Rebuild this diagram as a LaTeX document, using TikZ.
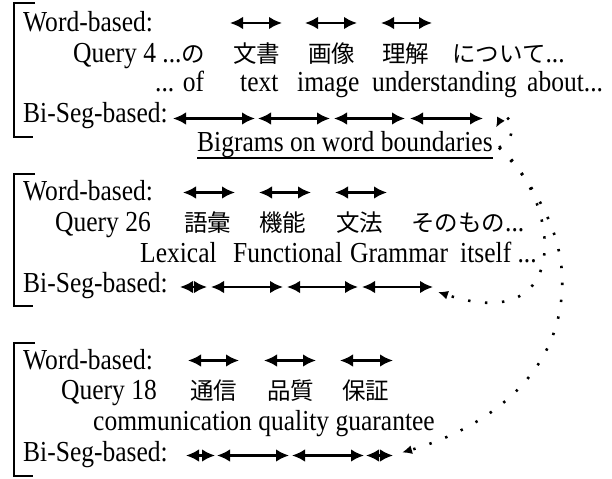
\documentclass[tikz,border=0pt]{standalone}
\usepackage{fontspec}
\setmainfont[FakeStretch=0.88]{Liberation Serif}
\newfontfamily\cjk{Noto Sans CJK JP}
\usetikzlibrary{arrows.meta,calc}
\newcommand\jpf{\cjk\fontsize{23.5bp}{28bp}\selectfont}
\begin{document}
\begin{tikzpicture}[x=1bp,y=-1bp,
  txt/.style={anchor=base west,inner sep=0pt,font=\fontsize{29bp}{34bp}\selectfont},
  jp/.style={anchor=base west,inner sep=0pt,font=\jpf},
  seg/.style={line width=2.1bp,>={Latex[length=13bp,width=12.5bp]},<->},
  brk/.style={line width=2bp},
  link/.style={line width=2.6bp,dash pattern=on 2.4bp off 14.6bp,>={Latex[length=10bp,width=9bp]},->}]
\useasboundingbox (0,0) rectangle (612,479);

% ---------- block 1 ----------
\draw[brk] (35,3) -- (13.5,3) -- (13.5,137) -- (33,137);
\node[txt] (w1) at (23,31.5) {Word-based:};
\node[txt] (q1) at (73,62.5) {Query 4 ...{\jpf の}};
\node[jp] (q1a) at (233,62.5) {文書};
\node[jp] (q1b) at (308,62.5) {画像};
\node[jp] (q1c) at (382,62.5) {理解};
\node[txt] (q1d) at (452,62.5) {{\jpf について}...};
\node[txt] (e1) at (155,91.5) {... of};
\node[txt] (e1a) at (240,91.5) {text};
\node[txt] (e1b) at (297,91.5) {image};
\node[txt] (e1c) at (372,91.5) {understanding};
\node[txt] (e1d) at (527,91.5) {about...};
\node[txt] (s1) at (23,123) {Bi-Seg-based:};
\node[txt] (lab) at (197,151.5) {Bigrams on word boundaries};
\draw[line width=1.5bp] (lab.south west) -- (lab.south east);
\foreach \a/\b [count=\i] in {230/282,305/357,381/432}{
  \coordinate (wa1\i) at (\a,23); \coordinate (wb1\i) at (\b,23);
  \draw[seg] (wa1\i) -- (wb1\i);}
\foreach \a/\b [count=\i] in {173/255,258/330,334/405,410/483}{
  \coordinate (ba1\i) at (\a,118.5); \coordinate (bb1\i) at (\b,118.5);
  \draw[seg] (ba1\i) -- (bb1\i);}

% ---------- block 2 ----------
\draw[brk] (35,174) -- (13.5,174) -- (13.5,306) -- (33,306);
\node[txt] (w2) at (23,201) {Word-based:};
\node[txt] (q2) at (55,231.5) {Query 26};
\node[jp] (q2a) at (184,231.5) {語彙};
\node[jp] (q2b) at (259,231.5) {機能};
\node[jp] (q2c) at (336,231.5) {文法};
\node[txt] (q2d) at (411,231.5) {{\jpf そのもの}...};
\node[txt] (e2a) at (140,262) {Lexical};
\node[txt] (e2b) at (233,262) {Functional};
\node[txt] (e2c) at (350,262) {Grammar};
\node[txt] (e2d) at (460,262) {itself ...};
\node[txt] (s2) at (23,292.5) {Bi-Seg-based:};
\foreach \a/\b [count=\i] in {183/235,259/311,335/387}{
  \coordinate (wa2\i) at (\a,192.5); \coordinate (wb2\i) at (\b,192.5);
  \draw[seg] (wa2\i) -- (wb2\i);}
\foreach \a/\b [count=\i] in {180/207,211/283,287/358,362/433}{
  \coordinate (ba2\i) at (\a,287); \coordinate (bb2\i) at (\b,287);
  \draw[seg] (ba2\i) -- (bb2\i);}

% ---------- block 3 ----------
\draw[brk] (35,343) -- (13.5,343) -- (13.5,476) -- (33,476);
\node[txt] (w3) at (23,369) {Word-based:};
\node[txt] (q3) at (61,399.5) {Query 18};
\node[jp] (q3a) at (190,399.5) {通信};
\node[jp] (q3b) at (267,399.5) {品質};
\node[jp] (q3c) at (342,399.5) {保証};
\node[txt] (e3) at (93,430) {communication quality guarantee};
\node[txt] (s3) at (23,461) {Bi-Seg-based:};
\foreach \a/\b [count=\i] in {188/239,264/316,340/393}{
  \coordinate (wa3\i) at (\a,360.5); \coordinate (wb3\i) at (\b,360.5);
  \draw[seg] (wa3\i) -- (wb3\i);}
\foreach \a/\b [count=\i] in {186/215,217/289,292/364,366/393}{
  \coordinate (ba3\i) at (\a,455.5); \coordinate (bb3\i) at (\b,455.5);
  \draw[seg] (ba3\i) -- (bb3\i);}

% ---------- dotted links ----------
\coordinate (src) at ($(lab.east)+(6,3)$);
\coordinate (t1) at ($(bb14)+(13,9)$);
\coordinate (t2) at ($(bb24)+(5,5)$);
\coordinate (t3) at ($(bb34)+(9,-3)$);
\coordinate (mid3) at (562,290);
\draw[link] (src) .. controls (522,138) and (508,106) .. (t1);
\draw[link] (src) .. controls (558,195) and (578,338) .. (t2);
\draw[link] (src) .. controls (540,190) and (565,240) .. (mid3)
                  .. controls (558,380) and (480,430) .. (t3);
\end{tikzpicture}
\end{document}
